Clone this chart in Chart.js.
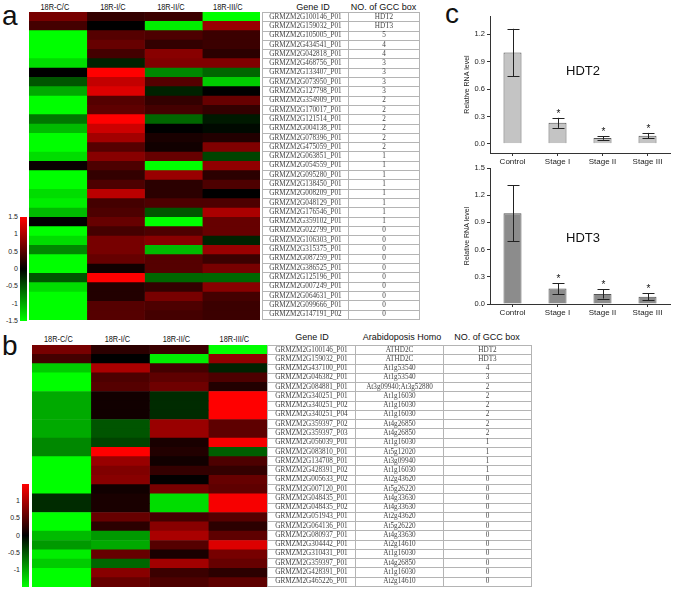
<!DOCTYPE html>
<html>
<head>
<meta charset="utf-8">
<script src="https://cdn.jsdelivr.net/npm/chart.js@4"></script>
<style>
  body { margin: 0; background: #fff; }
  #page { position: relative; width: 675px; height: 590px; overflow: hidden; font-family: "Liberation Sans", Arial, sans-serif; }
  .abs { position: absolute; }
  .panel { position: absolute; font-size: 28px; line-height: 28px; color: #111; }
  .colhead { position: absolute; font-size: 9px; line-height: 10px; text-align: center; color: #111; transform: scaleX(0.82); }
  .thead { position: absolute; font-size: 9px; line-height: 10px; text-align: center; color: #111; white-space: nowrap; }
  .cbar { position: absolute; background: linear-gradient(to bottom, #ff0000, #000000 50%, #00ff00); }
  .cblab { position: absolute; width: 18px; text-align: right; font-size: 7px; line-height: 8px; color: #222; }
  table { position: absolute; border-collapse: collapse; table-layout: fixed; will-change: transform;
          font-family: "Liberation Serif", "Times New Roman", serif; font-size: 7.2px; color: #444; }
  td { border: 1px solid #b4b4b4; padding: 0; text-align: center; line-height: 7px; white-space: nowrap; }
  .hdt { position: absolute; font-size: 13px; line-height: 14px; color: #111; }
</style>
</head>
<body>
<div id="page">
  <div class="panel" style="left:2px;top:2px;">a</div>
  <div class="panel" style="left:2px;top:332px;">b</div>
  <div class="panel" style="left:445px;top:0px;">c</div>

  <canvas id="heatA" class="abs" style="left:29px;top:12px;" width="231" height="308"></canvas>
  <canvas id="heatB" class="abs" style="left:32px;top:345px;" width="235" height="242"></canvas>
  <table id="tableA" style="left:262px;top:12px;width:157px;height:308px;"></table>
  <table id="tableB" style="left:267px;top:345px;width:264px;height:242px;"></table>

  <div class="thead" style="left:270px;top:2px;width:86px;">Gene ID</div>
  <div class="thead" style="left:348px;top:2px;width:71px;">NO. of GCC box</div>
  <div class="thead" style="left:268px;top:332px;width:88px;">Gene ID</div>
  <div class="thead" style="left:355px;top:332px;width:94px;">Arabidoposis Homo</div>
  <div class="thead" style="left:443px;top:332px;width:88px;">NO. of GCC box</div>

  <canvas id="barHDT2" class="abs" style="left:463px;top:0px;" width="212" height="169"></canvas>
  <canvas id="barHDT3" class="abs" style="left:463px;top:158px;" width="212" height="162"></canvas>
  <div class="hdt" style="left:566px;top:64px;">HDT2</div>
  <div class="hdt" style="left:566px;top:231px;">HDT3</div>
</div>
<script>
// heatmap column names
const colLabels = ["18R-C/C", "18R-I/C", "18R-II/C", "18R-III/C"];

// panel a
const genesA = ["GRMZM2G100146_P01", "GRMZM2G159032_P01", "GRMZM2G105005_P01", "GRMZM2G434541_P01",
  "GRMZM2G042818_P01", "GRMZM2G468756_P01", "GRMZM2G133407_P01", "GRMZM2G073950_P01",
  "GRMZM2G127798_P01", "GRMZM2G354909_P01", "GRMZM2G170017_P01", "GRMZM2G121514_P01",
  "GRMZM2G004138_P01", "GRMZM2G078396_P01", "GRMZM2G475059_P01", "GRMZM2G063851_P01",
  "GRMZM2G054559_P01", "GRMZM2G095280_P01", "GRMZM2G138450_P01", "GRMZM2G008209_P01",
  "GRMZM2G048129_P01", "GRMZM2G176546_P01", "GRMZM2G359102_P01", "GRMZM2G022799_P01",
  "GRMZM2G106303_P01", "GRMZM2G315375_P01", "GRMZM2G087259_P01", "GRMZM2G386525_P01",
  "GRMZM2G125196_P01", "GRMZM2G007249_P01", "GRMZM2G064631_P01", "GRMZM2G099666_P01",
  "GRMZM2G147191_P02"];
const gccA = ["HDT2", "HDT3", "5", "4", "4", "3", "3", "3", "3", "2", "2", "2", "2", "2", "2",
  "1", "1", "1", "1", "1", "1", "1", "1", "0", "0", "0", "0", "0", "0", "0", "0", "0", "0"];
const heatA_CC = [0.7, 0.4, -1.5, -1.5, -1.5, -1.3, 0, -0.5, -1.0, -1.5, -1.5, -0.7, -1.1, -1.5, -1.5, -1.3,
  0.05, -1.5, -1.5, -1.3, -1.4, -1.1, 0, -1.5, -1.3, -0.8, -1.5, -1.5, -0.5, -1.3, -1.5, -1.5, -1.5];
const heatA_IC = [0.3, 0, 0.5, 0.6, 0.4, -0.2, 1.5, 1.15, 1.3, 0.5, 0.55, 1.5, 1.2, 0.95, 0.5, 0.8,
  0.45, 0.3, 0.45, 1.1, 0.4, 0.45, 0.6, 0.4, 0.7, 0.7, 0.6, 0.1, 1.5, 0.2, 0.2, 0.5, 0.5];
const heatA_IIC = [0.35, -1.4, 0.45, 0.3, 0.8, 0.75, -0.8, 0.5, -0.2, 0.3, 0.4, -0.6, 0, 0.15, 0.1, 0.6,
  -1.5, 0.9, 0.25, 0.25, 0.45, -0.5, -1.5, 0.45, 0.8, -1.1, 0.5, 0.5, -0.6, 0.3, 0.7, 0.45, 0.4];
const heatA_IIIC = [-1.5, 0.9, 0.35, 0.35, 0.25, 0.75, -0.6, -1.2, 0, 0.6, 0.3, -0.15, -0.05, 0.2, 0.75, -0.4,
  0.85, 0.25, 0.45, 0, 0.45, 1.0, 0.6, 0.6, -0.2, 0.9, 0.35, 0.7, -0.6, 0.8, 0.4, 0.35, 0.35];

// panel b
const genesB = ["GRMZM2G100146_P01", "GRMZM2G159032_P01", "GRMZM2G437100_P01", "GRMZM2G046382_P01",
  "GRMZM2G084881_P01", "GRMZM2G340251_P01", "GRMZM2G340251_P02", "GRMZM2G340251_P04",
  "GRMZM2G359397_P02", "GRMZM2G359397_P03", "GRMZM2G056039_P01", "GRMZM2G083810_P01",
  "GRMZM2G134708_P01", "GRMZM2G428391_P02", "GRMZM2G005633_P02", "GRMZM2G007120_P01",
  "GRMZM2G048435_P01", "GRMZM2G048435_P02", "GRMZM2G051943_P01", "GRMZM2G064136_P01",
  "GRMZM2G080937_P01", "GRMZM2G304442_P01", "GRMZM2G310431_P01", "GRMZM2G359397_P01",
  "GRMZM2G428391_P01", "GRMZM2G465226_P01"];
const homoB = ["ATHD2C", "ATHD2C", "At1g53540", "At1g53540", "At3g09940;At3g52880", "At1g16030",
  "At1g16030", "At1g16030", "At4g26850", "At4g26850", "At1g16030", "At5g12020", "At3g09940",
  "At1g16030", "At2g43620", "At5g26220", "At4g33630", "At4g33630", "At2g43620", "At5g26220",
  "At4g33630", "At2g14610", "At1g16030", "At4g26850", "At1g16030", "At2g14610"];
const gccB = ["HDT2", "HDT3", "4", "3", "2", "2", "2", "2", "2", "2", "1", "1", "1", "1",
  "0", "0", "0", "0", "0", "0", "0", "0", "0", "0", "0", "0"];
const heatB_CC = [0.7, 0.4, -1.2, -1.5, -1.5, -1.0, -1.0, -1.0, -1.0, -1.0, -0.8, -0.8, -1.5,
  -1.5, -1.5, -1.5, -0.25, -0.25, -1.5, -1.5, -1.1, -0.9, -1.4, -1.2, -1.5, -1.5];
const heatB_IC = [0.25, 0, 1.0, 0.45, 0.5, 0.1, 0.1, 0.1, -0.5, -0.5, -0.4, 1.5, 0.9,
  0.75, 0.8, 0.1, 0.15, 0.15, 0.6, 0.25, -0.9, -1.0, 0.6, -0.6, 0.8, 0.6];
const heatB_IIC = [0.35, -1.4, 0.4, 0.55, 0.65, -0.25, -0.25, -0.25, 0.9, 0.9, 0.15, 0.2, 0.1,
  0.3, 0.02, 0.7, -1.3, -1.3, 0.4, 0.8, 1.0, 0.5, 0.15, 0.95, 0.35, 0.45];
const heatB_IIIC = [-1.5, 0.85, -0.2, 0.45, 0.2, 1.5, 1.5, 1.5, 0.55, 0.55, 1.45, -0.55, 0.45,
  0.3, 0.6, 0.55, 1.45, 1.45, 0.5, 0.25, 0.55, 1.3, 0.7, 0.6, 0.25, 0.55];

// panel c
const stages = ["Control", "Stage I", "Stage II", "Stage III"];
const hdt2Mean = [1.0, 0.23, 0.065, 0.09];
const hdt2Err = [0.26, 0.055, 0.02, 0.03];
const hdt3Mean = [1.0, 0.17, 0.11, 0.08];
const hdt3Err = [0.31, 0.06, 0.05, 0.04];
const signif = [false, true, true, true];
const hdt2Ticks = [0, 0.3, 0.6, 0.9, 1.2];
const hdt3Ticks = [0, 0.3, 0.6, 0.9, 1.2, 1.5];

// colour bar tick labels
const cbarTicksA = [1.5, 1, 0.5, 0, -0.5, -1, -1.5];
const cbarTicksB = [1, 0.5, 0, -0.5, -1];

const page = document.getElementById("page");

function cellColor(v) {
  const t = Math.min(1, Math.abs(v) / 1.5);
  const c = Math.round(255 * t);
  return v >= 0 ? `rgb(${c},0,0)` : `rgb(0,${c},0)`;
}

function heatmap(id, genes, cols) {
  new Chart(document.getElementById(id), {
    type: "bar",
    data: {
      labels: genes,
      datasets: cols.map((vals, c) => ({
        label: colLabels[c],
        data: vals.map(() => 1),
        backgroundColor: vals.map(cellColor),
        borderWidth: 0,
        barPercentage: 1,
        categoryPercentage: 1,
      })),
    },
    options: {
      indexAxis: "y",
      responsive: false,
      animation: false,
      layout: { padding: 0 },
      plugins: { legend: { display: false }, tooltip: { enabled: false } },
      scales: {
        x: { stacked: true, display: false, min: 0, max: 4 },
        y: { stacked: true, display: false },
      },
    },
  });
}

heatmap("heatA", genesA, [heatA_CC, heatA_IC, heatA_IIC, heatA_IIIC]);
heatmap("heatB", genesB, [heatB_CC, heatB_IC, heatB_IIC, heatB_IIIC]);

// column headers above the heatmaps
function colHeads(left, width, top) {
  const w = width / colLabels.length;
  colLabels.forEach((txt, i) => {
    const d = document.createElement("div");
    d.className = "colhead";
    d.style.left = (left + i * w - 3) + "px";
    d.style.width = w + "px";
    d.style.top = top + "px";
    d.textContent = txt;
    page.appendChild(d);
  });
}
colHeads(29, 231, 2);
colHeads(32, 235, 334);

// colour bars
function colorBar(left, top, height, ticks) {
  const bar = document.createElement("div");
  bar.className = "cbar";
  bar.style.left = left + "px";
  bar.style.top = top + "px";
  bar.style.width = "7px";
  bar.style.height = height + "px";
  page.appendChild(bar);
  ticks.forEach((v) => {
    const l = document.createElement("div");
    l.className = "cblab";
    l.style.left = (left - 20) + "px";
    l.style.top = (top + (1.5 - v) / 3 * height - 4) + "px";
    l.textContent = String(v);
    page.appendChild(l);
  });
}
colorBar(20, 217, 104, cbarTicksA);
colorBar(22, 484, 103, cbarTicksB);

// tables
function fillTable(id, widths, columns) {
  const t = document.getElementById(id);
  const cg = document.createElement("colgroup");
  widths.forEach((w) => {
    const c = document.createElement("col");
    c.style.width = w + "px";
    cg.appendChild(c);
  });
  t.appendChild(cg);
  columns[0].forEach((_, r) => {
    const tr = document.createElement("tr");
    columns.forEach((col) => {
      const td = document.createElement("td");
      td.textContent = col[r];
      tr.appendChild(td);
    });
    t.appendChild(tr);
  });
}
fillTable("tableA", [86, 71], [genesA, gccA]);
fillTable("tableB", [88, 88, 88], [genesB, homoB, gccB]);

// error bars and significance stars
const errorBars = {
  id: "errorBars",
  afterDatasetsDraw(chart, args, opts) {
    const { ctx } = chart;
    const y = chart.scales.y;
    const meta = chart.getDatasetMeta(0);
    const vals = chart.data.datasets[0].data;
    ctx.save();
    ctx.strokeStyle = "#222";
    ctx.lineWidth = 1;
    ctx.fillStyle = "#111";
    ctx.font = "10px 'Liberation Sans', Arial";
    ctx.textAlign = "center";
    meta.data.forEach((bar, i) => {
      const top = y.getPixelForValue(vals[i] + opts.errors[i]);
      const bot = y.getPixelForValue(vals[i] - opts.errors[i]);
      const x = Math.round(bar.x) + 0.5;
      ctx.beginPath();
      ctx.moveTo(x, top); ctx.lineTo(x, bot);
      ctx.moveTo(x - 6, Math.round(top) + 0.5); ctx.lineTo(x + 6, Math.round(top) + 0.5);
      ctx.moveTo(x - 6, Math.round(bot) + 0.5); ctx.lineTo(x + 6, Math.round(bot) + 0.5);
      ctx.stroke();
      if (opts.stars[i]) ctx.fillText("*", x, top - 1);
    });
    ctx.restore();
  },
};

function barChart(id, means, errs, color, ymin, ymax, yTicks, padTop) {
  new Chart(document.getElementById(id), {
    type: "bar",
    data: {
      labels: stages,
      datasets: [{
        data: means,
        backgroundColor: color,
        borderColor: "#555",
        borderWidth: 1,
        barPercentage: 0.8,
        categoryPercentage: 0.5,
      }],
    },
    plugins: [errorBars],
    options: {
      responsive: false,
      animation: false,
      layout: { padding: { top: padTop, right: 5, left: 0, bottom: 0 } },
      plugins: {
        legend: { display: false },
        tooltip: { enabled: false },
        errorBars: { errors: errs, stars: signif },
      },
      scales: {
        x: {
          grid: { drawOnChartArea: false, offset: false, tickLength: 3, color: "#333" },
          border: { color: "#333" },
          ticks: { color: "#222", padding: 1, font: { size: 8, family: "'Liberation Sans', Arial" } },
          afterFit(s) { s.height = 16; },
        },
        y: {
          min: ymin,
          max: ymax,
          grid: { drawOnChartArea: false, tickLength: 3, color: "#333" },
          border: { color: "#333" },
          ticks: {
            color: "#222",
            padding: 2,
            font: { size: 7.5, family: "'Liberation Sans', Arial" },
            callback: (v) => Number(v).toFixed(1),
          },
          afterBuildTicks(s) { s.ticks = yTicks.map((v) => ({ value: v })); },
          title: {
            display: true,
            text: "Relative RNA level",
            color: "#222",
            padding: 0,
            font: { size: 7, family: "'Liberation Sans', Arial" },
          },
          afterFit(s) { s.width = 27; },
        },
      },
    },
  });
}

barChart("barHDT2", hdt2Mean, hdt2Err, "#c4c4c4", -0.1, 1.4, hdt2Ticks, 16);
barChart("barHDT3", hdt3Mean, hdt3Err, "#8c8c8c", 0, 1.5, hdt3Ticks, 10);
</script>
</body>
</html>
